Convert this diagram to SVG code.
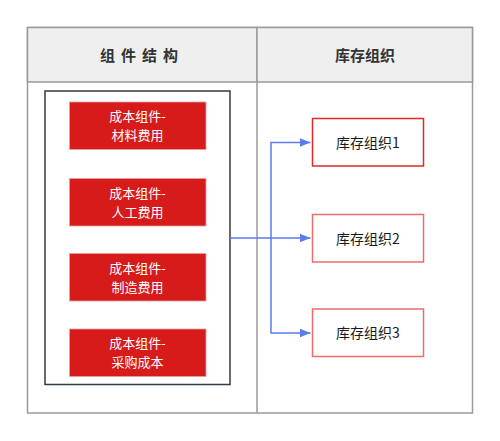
<svg xmlns="http://www.w3.org/2000/svg" width="500" height="441" viewBox="0 0 500 441">
<defs>
<style>
.hdr{fill:#efefef;stroke:#9a9a9a;stroke-width:1.5}
.cell{fill:#ffffff;stroke:#9a9a9a;stroke-width:1.5}
.ht{font-family:"Noto Sans CJK SC","Liberation Sans",sans-serif;font-size:15px;font-weight:bold;fill:#333333;text-anchor:middle}
.cost{fill:#d71a1a;stroke:#e8a0a0;stroke-width:0.8}
.ct{font-family:"Noto Sans CJK SC","Liberation Sans",sans-serif;font-size:13px;fill:#ffffff;text-anchor:middle}
.org{fill:#ffffff;stroke-width:1.5}
.ot{font-family:"Noto Sans CJK SC","Liberation Sans",sans-serif;font-size:14px;fill:#1a1a1a;text-anchor:middle}
.conn{fill:none;stroke:#5b7cf0;stroke-width:1.5}
</style>
<marker id="arr" viewBox="0 0 10 10" refX="10" refY="5" markerWidth="11" markerHeight="11" markerUnits="userSpaceOnUse" orient="auto">
<path d="M0,1 L10,5 L0,9 Z" fill="#5b7cf0"/>
</marker>
</defs>
<rect x="0" y="0" width="500" height="441" fill="#ffffff"/>
<g id="table">
<rect class="cell" x="27.5" y="27.5" width="445" height="385.5"/>
<rect class="hdr" x="27.5" y="27.5" width="229.5" height="54.5"/>
<rect class="hdr" x="257" y="27.5" width="215.5" height="54.5"/>
<line x1="257" y1="82" x2="257" y2="413" stroke="#9a9a9a" stroke-width="1.5"/>
<text class="ht" x="142" y="60.5" letter-spacing="6">组件结构</text>
<text class="ht" x="365" y="60.5">库存组织</text>
</g>
<g id="container">
<rect x="45" y="91" width="185" height="293.5" fill="#ffffff" stroke="#333a40" stroke-width="1.5"/>
</g>
<g id="cost1">
<rect class="cost" x="69.5" y="102" width="136.5" height="47.5"/>
<text class="ct" x="137.5" y="121"><tspan x="137.5">成本组件-</tspan><tspan x="137.5" dy="19">材料费用</tspan></text>
</g>
<g id="cost2">
<rect class="cost" x="69.5" y="178.5" width="136.5" height="47.5"/>
<text class="ct" x="137.5" y="197.5"><tspan x="137.5">成本组件-</tspan><tspan x="137.5" dy="19">人工费用</tspan></text>
</g>
<g id="cost3">
<rect class="cost" x="69.5" y="253.5" width="136.5" height="47.5"/>
<text class="ct" x="137.5" y="272.5"><tspan x="137.5">成本组件-</tspan><tspan x="137.5" dy="19">制造费用</tspan></text>
</g>
<g id="cost4">
<rect class="cost" x="69.5" y="329" width="136.5" height="47.5"/>
<text class="ct" x="137.5" y="348"><tspan x="137.5">成本组件-</tspan><tspan x="137.5" dy="19">采购成本</tspan></text>
</g>
<g id="connectors">
<path class="conn" d="M230,238 L310.5,238" marker-end="url(#arr)"/>
<path class="conn" d="M271,238 L271,142.5 L310.5,142.5" marker-end="url(#arr)"/>
<path class="conn" d="M271,238 L271,333 L310.5,333" marker-end="url(#arr)"/>
</g>
<g id="org1">
<rect class="org" x="312.5" y="118.5" width="111" height="47.5" stroke="#e02828"/>
<text class="ot" x="368" y="147.5">库存组织1</text>
</g>
<g id="org2">
<rect class="org" x="312.5" y="214.5" width="111" height="47.5" stroke="#f06b6b"/>
<text class="ot" x="368" y="243.5">库存组织2</text>
</g>
<g id="org3">
<rect class="org" x="312.5" y="309" width="111" height="47.5" stroke="#f06b6b"/>
<text class="ot" x="368" y="338">库存组织3</text>
</g>
</svg>
